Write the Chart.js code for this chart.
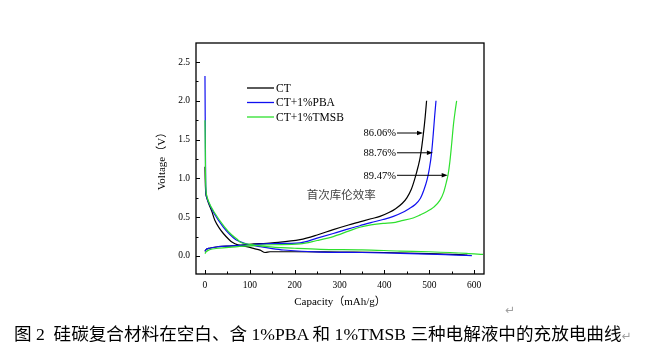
<!DOCTYPE html>
<html>
<head>
<meta charset="utf-8">
<script src="https://cdn.jsdelivr.net/npm/chart.js@4"></script>
<style>
html,body{margin:0;padding:0;background:#fff;width:657px;height:358px;overflow:hidden;}
#wrap{position:absolute;left:0;top:0;width:657px;height:358px;}
#cap{position:absolute;left:14px;top:322px;font-family:"Liberation Serif","Noto Sans CJK SC",serif;font-size:17.6px;color:#000;white-space:nowrap;line-height:24px;}
.ret{color:#a0a0a0;font-family:"DejaVu Sans",sans-serif;font-size:12px;}
#ret2{position:absolute;left:505px;top:303px;}
</style>
</head>
<body>
<div id="wrap"><canvas id="c" width="657" height="358"></canvas></div>
<span id="ret2" class="ret">↵</span>
<div id="cap">图 2&nbsp; 硅碳复合材料在空白、含 1%PBA 和 1%TMSB 三种电解液中的充放电曲线<span class="ret">↵</span></div>
<script>
// ---- data ----
const seriesNames = ['CT', 'CT+1%PBA', 'CT+1%TMSB'];
const seriesColors = ['#000000', '#1010f0', '#2ee02e'];

// discharge (lithiation) curves
const ctDisX   = [0, 0.5, 1, 2, 4, 8, 15, 22, 32, 41, 54, 60, 75, 93, 110, 123, 134, 145, 200, 300, 400, 500, 560, 585];
const ctDisV   = [1.15, 1.0, 0.9, 0.8, 0.75, 0.68, 0.58, 0.46, 0.36, 0.29, 0.21, 0.18, 0.14, 0.12, 0.095, 0.075, 0.045, 0.055, 0.055, 0.05, 0.045, 0.03, 0.02, 0.01];
const pbaDisX  = [0, 0.5, 1, 1.5, 2, 4, 9, 20, 40, 55, 69, 85, 100, 123, 150, 175, 257, 350, 435, 500, 560, 595];
const pbaDisV  = [2.32, 1.8, 1.37, 1.0, 0.85, 0.76, 0.68, 0.55, 0.38, 0.28, 0.21, 0.17, 0.145, 0.12, 0.095, 0.077, 0.05, 0.045, 0.035, 0.025, 0.012, 0.005];
const tmsbDisX = [0, 0.5, 1, 2, 4, 9, 20, 43, 60, 73, 78, 100, 138, 200, 257, 350, 435, 500, 583, 620];
const tmsbDisV = [1.75, 1.5, 1.15, 0.88, 0.78, 0.69, 0.57, 0.38, 0.27, 0.21, 0.18, 0.15, 0.12, 0.1, 0.086, 0.08, 0.064, 0.055, 0.035, 0.02];

// charge (delithiation) curves
const ctChX    = [0, 2, 10, 30, 60, 100, 150, 212, 250, 286, 320, 345, 370, 390, 410, 425, 440, 450, 460, 469, 475, 480, 487, 491, 494];
const ctChV    = [0.06, 0.08, 0.1, 0.12, 0.13, 0.15, 0.17, 0.21, 0.27, 0.34, 0.40, 0.44, 0.48, 0.51, 0.56, 0.61, 0.68, 0.75, 0.86, 1.02, 1.15, 1.28, 1.58, 1.8, 2.0];
const pbaChX   = [0, 2, 10, 30, 60, 100, 150, 212, 250, 286, 320, 345, 370, 397, 420, 440, 455, 468, 480, 488, 495, 500, 505, 509, 512, 515];
const pbaChV   = [0.06, 0.08, 0.1, 0.12, 0.13, 0.145, 0.16, 0.17, 0.23, 0.29, 0.35, 0.39, 0.43, 0.47, 0.51, 0.56, 0.61, 0.66, 0.74, 0.85, 0.98, 1.12, 1.32, 1.58, 1.8, 2.0];
const tmsbChX  = [0, 2, 10, 30, 60, 100, 150, 212, 250, 286, 320, 345, 370, 397, 420, 435, 464, 480, 494, 510, 524, 532, 538, 542, 546, 550, 554, 558, 561];
const tmsbChV  = [0.03, 0.05, 0.08, 0.1, 0.115, 0.13, 0.145, 0.155, 0.2, 0.25, 0.32, 0.37, 0.40, 0.42, 0.43, 0.45, 0.49, 0.53, 0.57, 0.63, 0.72, 0.82, 0.95, 1.05, 1.22, 1.45, 1.7, 1.88, 2.0];

// axis ticks
const xTickValues = [0, 100, 200, 300, 400, 500, 600];
const xMinorValues = [50, 150, 250, 350, 450, 550];
const yTickValues = [0.0, 0.5, 1.0, 1.5, 2.0, 2.5];
const yMinorValues = [0.25, 0.75, 1.25, 1.75, 2.25];

// first-cycle coulombic efficiency annotations
const effLabels = ['86.06%', '88.76%', '89.47%'];
const effV = [1.585, 1.33, 1.04];
const effTipX = [486, 508, 541];
const effStartX = 428;
const effTitle = '首次库伦效率';
const effTitlePos = [227, 0.79];

function pts(xs, ys) { return xs.map((x, i) => ({x: x, y: ys[i]})); }

const serif = '"Liberation Serif", "Noto Sans CJK SC", serif';

function ds(label, xs, ys, color) {
  return {label: label, data: pts(xs, ys), borderColor: color, backgroundColor: color,
          borderWidth: 1.2, pointRadius: 0, showLine: true, fill: false,
          cubicInterpolationMode: 'monotone'};
}

const datasets = [
  ds(seriesNames[2], tmsbChX, tmsbChV, seriesColors[2]),
  ds(seriesNames[2], tmsbDisX, tmsbDisV, seriesColors[2]),
  ds(seriesNames[1], pbaChX, pbaChV, seriesColors[1]),
  ds(seriesNames[1], pbaDisX, pbaDisV, seriesColors[1]),
  ds(seriesNames[0], ctChX, ctChV, seriesColors[0]),
  ds(seriesNames[0], ctDisX, ctDisV, seriesColors[0])
];

const decor = {
  id: 'decor',
  afterDraw(chart) {
    const ctx = chart.ctx, a = chart.chartArea;
    const xs = chart.scales.x, ys = chart.scales.y;
    ctx.save();
    // frame
    ctx.strokeStyle = '#000'; ctx.lineWidth = 1.3;
    ctx.strokeRect(a.left, a.top, a.right - a.left, a.bottom - a.top);
    // inward ticks
    ctx.lineWidth = 1;
    ctx.beginPath();
    xTickValues.forEach(v => { const p = Math.round(xs.getPixelForValue(v)) + 0.5; ctx.moveTo(p, a.bottom); ctx.lineTo(p, a.bottom - 4); });
    xMinorValues.forEach(v => { const p = Math.round(xs.getPixelForValue(v)) + 0.5; ctx.moveTo(p, a.bottom); ctx.lineTo(p, a.bottom - 2.5); });
    yTickValues.forEach(v => { const p = Math.round(ys.getPixelForValue(v)) + 0.5; ctx.moveTo(a.left, p); ctx.lineTo(a.left + 4, p); });
    yMinorValues.forEach(v => { const p = Math.round(ys.getPixelForValue(v)) + 0.5; ctx.moveTo(a.left, p); ctx.lineTo(a.left + 2.5, p); });
    ctx.stroke();

    // legend
    const legX0 = 247, legX1 = 274, legY = [88, 102.5, 117];
    ctx.font = '11.5px ' + serif;
    ctx.textBaseline = 'middle';
    ctx.textAlign = 'left';
    seriesNames.forEach((n, i) => {
      ctx.strokeStyle = seriesColors[i]; ctx.lineWidth = 1.3;
      ctx.beginPath(); ctx.moveTo(legX0, legY[i]); ctx.lineTo(legX1, legY[i]); ctx.stroke();
      ctx.fillStyle = '#000';
      ctx.fillText(n, legX1 + 2, legY[i] + 0.5);
    });

    // efficiency arrows
    ctx.font = '10.5px ' + serif;
    ctx.textAlign = 'right';
    effLabels.forEach((t, i) => {
      const y = ys.getPixelForValue(effV[i]);
      const x0 = xs.getPixelForValue(effStartX), x1 = xs.getPixelForValue(effTipX[i]);
      ctx.fillStyle = '#000';
      ctx.fillText(t, x0 - 1, y + 0.5);
      ctx.strokeStyle = '#000'; ctx.lineWidth = 1;
      ctx.beginPath(); ctx.moveTo(x0, y); ctx.lineTo(x1 - 5, y); ctx.stroke();
      ctx.beginPath(); ctx.moveTo(x1, y); ctx.lineTo(x1 - 6, y - 2.2); ctx.lineTo(x1 - 6, y + 2.2); ctx.closePath(); ctx.fill();
    });
    ctx.font = '11.5px "Noto Sans CJK SC", sans-serif';
    ctx.textAlign = 'left';
    ctx.fillStyle = '#444';
    ctx.fillText(effTitle, xs.getPixelForValue(effTitlePos[0]), ys.getPixelForValue(effTitlePos[1]));
    ctx.restore();
  }
};

new Chart(document.getElementById('c'), {
  type: 'scatter',
  data: {datasets: datasets},
  options: {
    responsive: false,
    animation: false,
    layout: {padding: {left: 150, right: 173, top: 43, bottom: 44}},
    plugins: {legend: {display: false}, tooltip: {enabled: false}},
    scales: {
      x: {
        type: 'linear', min: -20, max: 622,
        afterFit(s) { s.height = 40; },
        afterBuildTicks(s) { s.ticks = xTickValues.map(v => ({value: v})); },
        grid: {display: false, drawTicks: false},
        border: {display: false},
        ticks: {color: '#000', font: {family: serif, size: 9.5}, padding: 6, maxRotation: 0, autoSkip: false,
                callback: v => String(v)},
        title: {display: true, text: 'Capacity（mAh/g）', color: '#000', font: {family: serif, size: 11}, padding: {top: 0, bottom: 5}}
      },
      y: {
        type: 'linear', min: -0.232, max: 2.745,
        afterFit(s) { s.width = 46; },
        afterBuildTicks(s) { s.ticks = yTickValues.map(v => ({value: v})); },
        grid: {display: false, drawTicks: false},
        border: {display: false},
        ticks: {color: '#000', font: {family: serif, size: 9.5}, padding: 6, autoSkip: false,
                callback: v => Number(v).toFixed(1)},
        title: {display: true, text: 'Voltage（V）', color: '#000', font: {family: serif, size: 11}, padding: {top: 6, bottom: 0}}
      }
    }
  },
  plugins: [decor]
});
</script>
</body>
</html>
